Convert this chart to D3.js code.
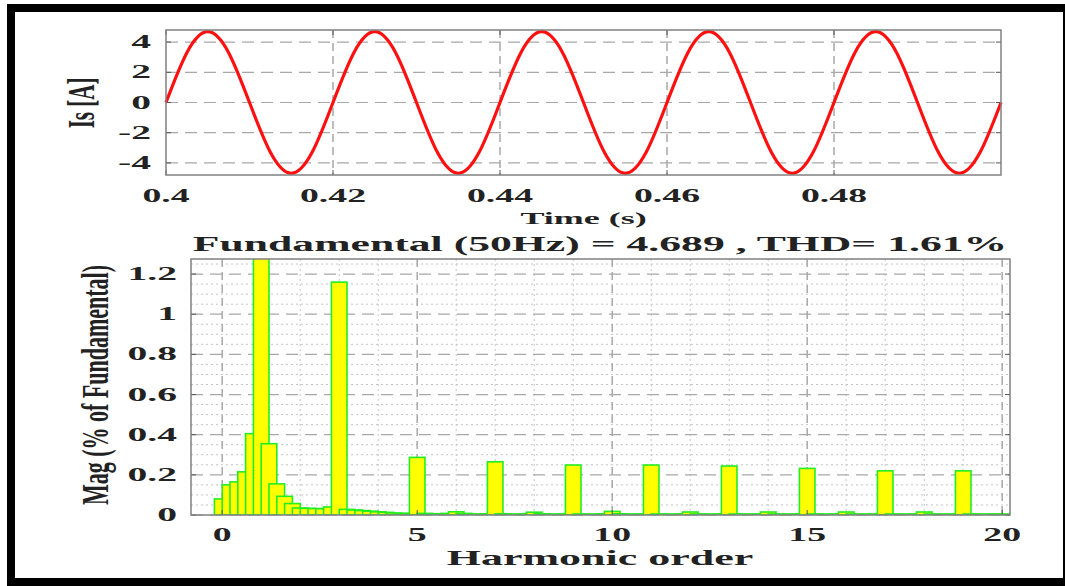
<!DOCTYPE html>
<html>
<head>
<meta charset="utf-8">
<script src="https://cdn.jsdelivr.net/npm/d3@7"></script>
<style>
  body { margin: 0; background: #fff; }
  svg { display: block; }
</style>
</head>
<body>
<svg id="chart" width="1065" height="586"></svg>
<script>
const timeStart = 0.4;
const timeStep = 0.0025;
const current = [
  0, 3.3, 4.69, 3.3, 0, -3.3, -4.69, -3.3,
  0, 3.3, 4.69, 3.3, 0, -3.3, -4.69, -3.3,
  0, 3.3, 4.69, 3.3, 0, -3.3, -4.69, -3.3,
  0, 3.3, 4.69, 3.3, 0, -3.3, -4.69, -3.3,
  0, 3.3, 4.69, 3.3, 0, -3.3, -4.69, -3.3,
  0
];
const timeTicks = [0.4, 0.42, 0.44, 0.46, 0.48];
const currentTicks = [-4, -2, 0, 2, 4];

// ---- bottom: FFT spectrum, one bin every 0.2 harmonic order (0 .. 20)
const binStep = 0.2;
const magnitude = [
  0.08, 0.15, 0.165, 0.215, 0.405,     // 0 .. 0.8
  100, 0.355, 0.155, 0.093, 0.057,     // 1 .. 1.8
  0.035, 0.033, 0.032, 0.031, 0.04,    // 2 .. 2.8
  1.16, 0.028, 0.025, 0.022, 0.019,    // 3 ..
  0.016, 0.013, 0.01, 0.008, 0.008,    // 4 ..
  0.287, 0.008, 0.006, 0.005, 0.008,   // 5 ..
  0.016, 0.008, 0.005, 0.004, 0.006,   // 6 ..
  0.265, 0.006, 0.004, 0.004, 0.006,   // 7 ..
  0.014, 0.006, 0.004, 0.004, 0.005,   // 8 ..
  0.249, 0.005, 0.004, 0.004, 0.006,   // 9 ..
  0.018, 0.006, 0.004, 0.004, 0.005,   // 10 ..
  0.249, 0.005, 0.004, 0.004, 0.005,   // 11 ..
  0.015, 0.005, 0.004, 0.004, 0.005,   // 12 ..
  0.244, 0.005, 0.004, 0.004, 0.005,   // 13 ..
  0.015, 0.005, 0.004, 0.004, 0.005,   // 14 ..
  0.232, 0.005, 0.004, 0.004, 0.005,   // 15 ..
  0.015, 0.005, 0.004, 0.004, 0.005,   // 16 ..
  0.22, 0.005, 0.004, 0.004, 0.005,    // 17 ..
  0.015, 0.005, 0.004, 0.004, 0.005,   // 18 ..
  0.22, 0.005, 0.004, 0.004, 0.005,    // 19 ..
  0.005                                // 20
];
const orderTicks = [0, 5, 10, 15, 20];
const magTicks = [0, 0.2, 0.4, 0.6, 0.8, 1, 1.2];
const spectrumTitle = "Fundamental (50Hz) = 4.689 , THD= 1.61%";

const svg = d3.select("#chart");
const serif = "'Liberation Serif', 'DejaVu Serif', serif";

// the original figure was stretched sideways, so every text is scaled in x
function label(g, x, y, str, o) {
  o = o || {};
  const rot = o.rotate ? " rotate(-90)" : "";
  return g.append("text")
    .attr("transform", `translate(${x},${y}) scale(${o.sx || 2},1)${rot}`)
    .attr("text-anchor", o.anchor || "middle")
    .attr("font-family", serif)
    .attr("font-weight", o.weight || "bold")
    .attr("font-size", (o.size || 18) + "px")
    .attr("fill", "#222")
    .text(str);
}

// outer black frame
svg.append("rect")
  .attr("x", 11).attr("y", 8)
  .attr("width", 1056).attr("height", 574)
  .attr("fill", "none").attr("stroke", "#000").attr("stroke-width", 8);

// ================= top plot =================
const box1 = { left: 166, right: 1001, top: 30, bottom: 175 };
const x1 = d3.scaleLinear().domain([0.4, 0.5]).range([box1.left, box1.right]);
const y1 = d3.scaleLinear().domain([-4.8, 4.8]).range([box1.bottom, box1.top]);

const g1 = svg.append("g");
g1.append("g").selectAll("line").data(currentTicks).join("line")
  .attr("x1", box1.left).attr("x2", box1.right)
  .attr("y1", d => y1(d)).attr("y2", d => y1(d))
  .attr("stroke", "#a8a8a8").attr("stroke-width", 1.2)
  .attr("stroke-dasharray", "12,7");
g1.append("g").selectAll("line").data(timeTicks.slice(1)).join("line")
  .attr("x1", d => x1(d)).attr("x2", d => x1(d))
  .attr("y1", box1.top).attr("y2", box1.bottom)
  .attr("stroke", "#a8a8a8").attr("stroke-width", 1.5)
  .attr("stroke-dasharray", "8,5");

// inner tick marks on all four sides
currentTicks.forEach(v => {
  g1.append("line").attr("x1", box1.left).attr("x2", box1.left + 5)
    .attr("y1", y1(v)).attr("y2", y1(v)).attr("stroke", "#555");
  g1.append("line").attr("x1", box1.right).attr("x2", box1.right - 5)
    .attr("y1", y1(v)).attr("y2", y1(v)).attr("stroke", "#555");
});
timeTicks.forEach(v => {
  g1.append("line").attr("x1", x1(v)).attr("x2", x1(v))
    .attr("y1", box1.bottom).attr("y2", box1.bottom - 5).attr("stroke", "#555");
  g1.append("line").attr("x1", x1(v)).attr("x2", x1(v))
    .attr("y1", box1.top).attr("y2", box1.top + 5).attr("stroke", "#555");
});

const line = d3.line()
  .x((d, i) => x1(timeStart + i * timeStep))
  .y(d => y1(d))
  .curve(d3.curveNatural);
g1.append("path")
  .datum(current)
  .attr("d", line)
  .attr("fill", "none")
  .attr("stroke", "#ff1010")
  .attr("stroke-width", 3.2);

g1.append("rect")
  .attr("x", box1.left).attr("y", box1.top)
  .attr("width", box1.right - box1.left).attr("height", box1.bottom - box1.top)
  .attr("fill", "none").attr("stroke", "#808080").attr("stroke-width", 1.5);

currentTicks.forEach(v => label(g1, 151, y1(v) + 6, String(v), { anchor: "end", sx: 2.2 }));
timeTicks.forEach(v => label(g1, x1(v), 202, String(v), { sx: 2.1 }));
label(g1, (box1.left + box1.right) / 2, 224, "Time (s)", { size: 16, sx: 2.25 });
label(g1, 94, 103, "Is [A]", { rotate: true, size: 21, sx: 1.8 });

// ================= bottom plot =================
const box2 = { left: 191, right: 1010, top: 259, bottom: 515 };
const x2 = d3.scaleLinear().domain([-0.8, 20.2]).range([box2.left, box2.right]);
const y2 = d3.scaleLinear().domain([0, 1.275]).range([box2.bottom, box2.top]);

const g2 = svg.append("g");
svg.append("clipPath").attr("id", "specClip")
  .append("rect")
  .attr("x", box2.left).attr("y", box2.top)
  .attr("width", box2.right - box2.left).attr("height", box2.bottom - box2.top);

// minor grid (dotted)
const minorX = d3.range(0, 21).filter(v => !orderTicks.includes(v));
const minorY = d3.range(0, 1.27, 0.05).filter(v => Math.abs(v * 5 - Math.round(v * 5)) > 1e-6);
g2.append("g").selectAll("line").data(minorX).join("line")
  .attr("x1", d => x2(d)).attr("x2", d => x2(d))
  .attr("y1", box2.top).attr("y2", box2.bottom)
  .attr("stroke", "#c4c4c4").attr("stroke-dasharray", "2,3");
g2.append("g").selectAll("line").data(minorY).join("line")
  .attr("x1", box2.left).attr("x2", box2.right)
  .attr("y1", d => y2(d)).attr("y2", d => y2(d))
  .attr("stroke", "#c4c4c4").attr("stroke-dasharray", "2,3");
// major grid (dashed)
g2.append("g").selectAll("line").data(orderTicks).join("line")
  .attr("x1", d => x2(d)).attr("x2", d => x2(d))
  .attr("y1", box2.top).attr("y2", box2.bottom)
  .attr("stroke", "#a8a8a8").attr("stroke-width", 1.5).attr("stroke-dasharray", "8,5");
g2.append("g").selectAll("line").data(magTicks).join("line")
  .attr("x1", box2.left).attr("x2", box2.right)
  .attr("y1", d => y2(d)).attr("y2", d => y2(d))
  .attr("stroke", "#a8a8a8").attr("stroke-width", 1.2).attr("stroke-dasharray", "12,7");

// bars, one per bin; each is 2 bins wide so they overlap like the original
const barW = x2(2 * binStep) - x2(0);
g2.append("g").attr("clip-path", "url(#specClip)")
  .selectAll("rect").data(magnitude).join("rect")
  .attr("x", (d, i) => x2(i * binStep - binStep))
  .attr("y", d => y2(d))
  .attr("width", barW)
  .attr("height", d => box2.bottom - y2(d))
  .attr("fill", "#ffff00")
  .attr("stroke", "#22ee22")
  .attr("stroke-width", 1.6);

magTicks.forEach(v => {
  g2.append("line").attr("x1", box2.left).attr("x2", box2.left + 5)
    .attr("y1", y2(v)).attr("y2", y2(v)).attr("stroke", "#555");
  g2.append("line").attr("x1", box2.right).attr("x2", box2.right - 5)
    .attr("y1", y2(v)).attr("y2", y2(v)).attr("stroke", "#555");
});
orderTicks.forEach(v => {
  g2.append("line").attr("x1", x2(v)).attr("x2", x2(v))
    .attr("y1", box2.bottom).attr("y2", box2.bottom - 5).attr("stroke", "#555");
});

g2.append("rect")
  .attr("x", box2.left).attr("y", box2.top)
  .attr("width", box2.right - box2.left).attr("height", box2.bottom - box2.top)
  .attr("fill", "none").attr("stroke", "#808080").attr("stroke-width", 1.5);

magTicks.forEach(v => label(g2, 177, y2(v) + 6, String(v), { anchor: "end", sx: 2.2 }));
orderTicks.forEach(v => label(g2, x2(v), 541, String(v), { sx: 2.1 }));
label(g2, 600, 565, "Harmonic order", { size: 22, sx: 2.0 });
label(g2, 600, 251, spectrumTitle, { size: 21, sx: 2.08 });
label(g2, 108, 385, "Mag (% of Fundamental)", { rotate: true, size: 22, sx: 1.7 });
</script>
</body>
</html>
